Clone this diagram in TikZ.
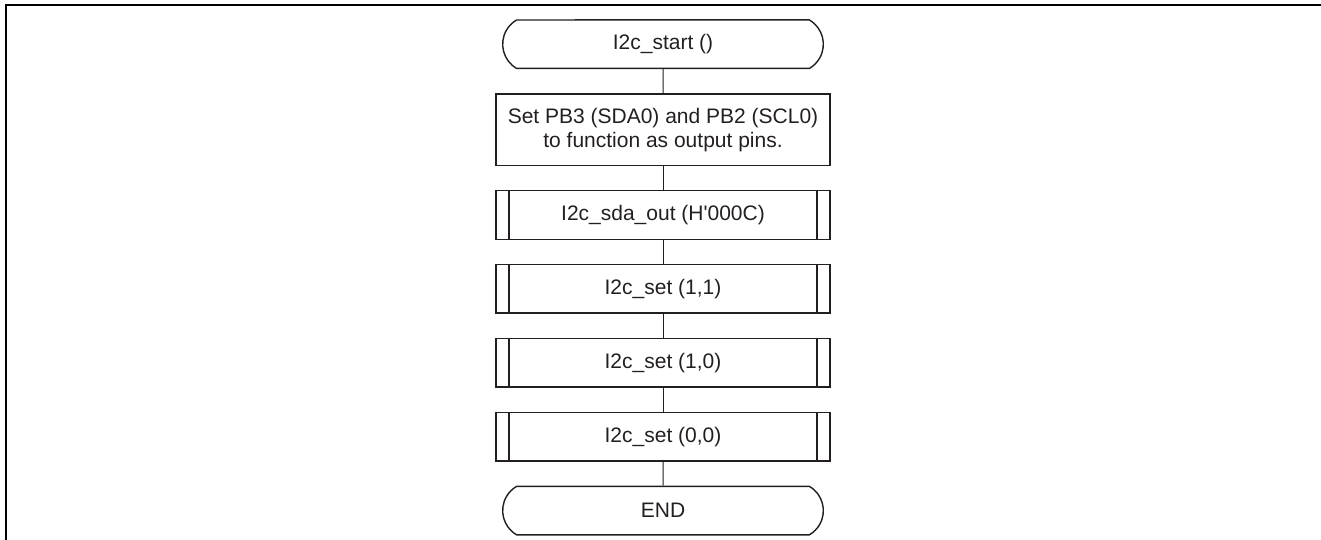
\documentclass[tikz,border=0pt]{standalone}
\usepackage{fontspec}
\setmainfont{Liberation Sans}
\usepackage{tikz}
\usetikzlibrary{positioning,shapes.misc}
\definecolor{flowink}{HTML}{231F20}

\begin{document}
\begin{tikzpicture}[x=1pt,y=1pt,node distance=12pt,
  every node/.style={font=\fontsize{10.5}{12}\selectfont, text=flowink},
  terminal/.style={rounded rectangle, rounded rectangle arc length=120, draw=flowink, line width=0.7pt, minimum width=167pt, minimum height=24.25pt},
  procbox/.style={rectangle, draw=flowink, line width=0.7pt, minimum width=167pt, minimum height=35.75pt, align=center, text centered},
  subbox/.style={procbox, minimum height=24.25pt,
    path picture={
      \draw[flowink, line width=0.7pt] ([xshift=6.5pt]path picture bounding box.north west) -- ([xshift=6.5pt]path picture bounding box.south west);
      \draw[flowink, line width=0.7pt] ([xshift=-6.5pt]path picture bounding box.north east) -- ([xshift=-6.5pt]path picture bounding box.south east);}},
  link/.style={draw=flowink, line width=0.5pt}]
\useasboundingbox (0,0) rectangle (660.5,-270);
% frame, top and left side only
\draw [line width=1pt] (3,-270) -- (3,-2.5) -- (660.5,-2.5);

\node [terminal] (start) at (331.5,-22.1) {I2c\_start ()};
\node [procbox, below=of start] (setpins) {Set PB3 (SDA0) and PB2 (SCL0)\\to function as output pins.};
\node [subbox, below=of setpins] (sdaout) {I2c\_sda\_out (H\textquotesingle 000C)};
\node [subbox, below=of sdaout] (set11) {I2c\_set (1,1)};
\node [subbox, below=of set11] (set10) {I2c\_set (1,0)};
\node [subbox, below=of set10] (set00) {I2c\_set (0,0)};
\node [terminal, below=of set00] (stop) {END};

\draw [link] (start) -- (setpins);
\draw [link] (setpins) -- (sdaout);
\draw [link] (sdaout) -- (set11);
\draw [link] (set11) -- (set10);
\draw [link] (set10) -- (set00);
\draw [link] (set00) -- (stop);

\end{tikzpicture}
\end{document}
